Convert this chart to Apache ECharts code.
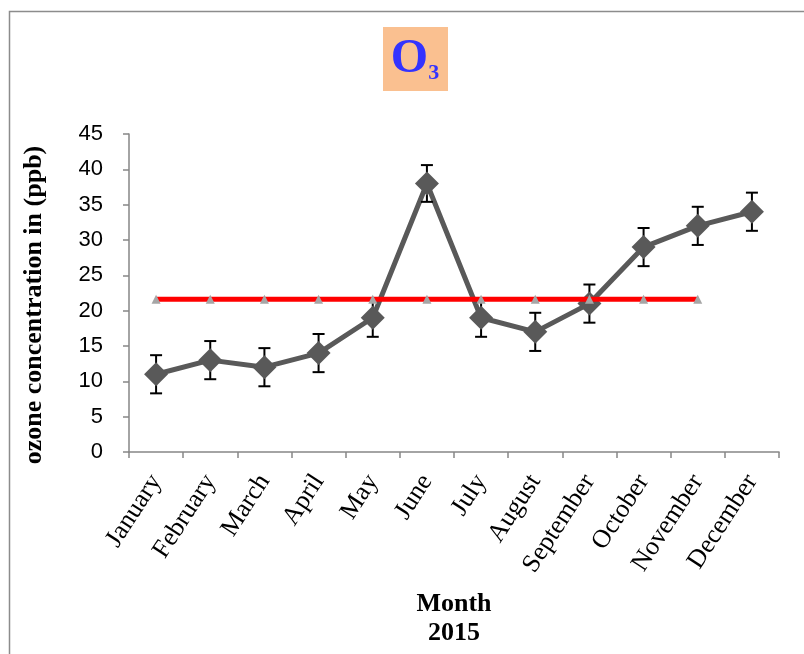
<!DOCTYPE html>
<html>
<head>
<meta charset="utf-8">
<script src="https://cdn.jsdelivr.net/npm/echarts@6/dist/echarts.min.js"></script>
<style>
html,body{margin:0;padding:0;background:#fff;}
#chart{width:804px;height:654px;}
</style>
</head>
<body>
<div id="chart"></div>
<script>
const months = ['January','February','March','April','May','June','July','August','September','October','November','December'];
const ozone = [11, 13, 12, 14, 19, 38, 19, 17, 21, 29, 32, 34];
const ozoneErr = [2.7, 2.7, 2.7, 2.7, 2.7, 2.6, 2.7, 2.7, 2.7, 2.7, 2.7, 2.7];
const limitLine = [21.6, 21.6, 21.6, 21.6, 21.6, 21.6, 21.6, 21.6, 21.6, 21.6, 21.6];
const yTicks = [0, 5, 10, 15, 20, 25, 30, 35, 40, 45];

const chart = echarts.init(document.getElementById('chart'), null, {renderer: 'canvas'});

const errData = ozone.map((v, i) => [i, v - ozoneErr[i], v + ozoneErr[i]]);

chart.setOption({
  animation: false,
  backgroundColor: '#ffffff',
  grid: {left: 129, top: 134, right: 25, bottom: 202, containLabel: false},
  xAxis: {
    type: 'category',
    data: months,
    boundaryGap: true,
    axisLine: {lineStyle: {color: '#868686', width: 1.5}},
    axisTick: {show: true, alignWithLabel: false, length: 6, lineStyle: {color: '#868686', width: 1.5}},
    axisLabel: {rotate: 57, interval: 0, margin: 25, color: '#000', fontFamily: 'Liberation Serif', fontSize: 26}
  },
  yAxis: {
    type: 'value',
    min: yTicks[0], max: yTicks[yTicks.length - 1], interval: 5,
    axisLine: {show: true, lineStyle: {color: '#868686', width: 1.5}},
    axisTick: {show: true, length: 6, lineStyle: {color: '#868686', width: 1.5}},
    splitLine: {show: false},
    axisLabel: {color: '#000', fontFamily: 'Liberation Sans', fontSize: 22, margin: 26}
  },
  graphic: [
    {type: 'rect', shape: {x: 9.5, y: 11.5, width: 1000, height: 1000}, style: {fill: 'none', stroke: '#8c8c8c', lineWidth: 1.5}, z: -10},
    {type: 'rect', shape: {x: 383, y: 27, width: 65, height: 64}, style: {fill: '#FAC090'}, z: 1},
    {type: 'text', x: 415, y: 60, style: {
      text: '{o|O}{s|3}', align: 'center', verticalAlign: 'middle',
      rich: {
        o: {fontFamily: 'Liberation Serif', fontWeight: 'bold', fontSize: 48, fill: '#3333FF'},
        s: {fontFamily: 'Liberation Serif', fontWeight: 'bold', fontSize: 22, fill: '#3333FF', verticalAlign: 'bottom', padding: [16, 0, 0, 0]}
      }}, z: 2},
    {type: 'text', x: 34, y: 305, rotation: Math.PI / 2, style: {
      text: 'ozone concentration in (ppb)', align: 'center', verticalAlign: 'middle',
      fontFamily: 'Liberation Serif', fontWeight: 'bold', fontSize: 26, fill: '#000'}},
    {type: 'text', x: 454, y: 604, style: {
      text: 'Month', align: 'center', verticalAlign: 'middle',
      fontFamily: 'Liberation Serif', fontWeight: 'bold', fontSize: 26, fill: '#000'}},
    {type: 'text', x: 454, y: 633, style: {
      text: '2015', align: 'center', verticalAlign: 'middle',
      fontFamily: 'Liberation Serif', fontWeight: 'bold', fontSize: 26, fill: '#000'}}
  ],
  series: [
    {
      type: 'line', data: ozone, z: 2,
      showSymbol: false, symbol: 'none',
      lineStyle: {color: '#595959', width: 5}
    },
    {
      type: 'custom', data: errData, z: 3,
      renderItem: function (params, api) {
        const x = api.value(0);
        const lo = api.coord([x, api.value(1)]);
        const hi = api.coord([x, api.value(2)]);
        const w = 6;
        const st = {stroke: '#000', lineWidth: 2};
        return {type: 'group', children: [
          {type: 'line', shape: {x1: lo[0], y1: lo[1], x2: hi[0], y2: hi[1]}, style: st},
          {type: 'line', shape: {x1: lo[0] - w, y1: lo[1], x2: lo[0] + w, y2: lo[1]}, style: st},
          {type: 'line', shape: {x1: hi[0] - w, y1: hi[1], x2: hi[0] + w, y2: hi[1]}, style: st}
        ]};
      }
    },
    {
      type: 'scatter', data: ozone, z: 4,
      symbol: 'diamond', symbolSize: 24,
      itemStyle: {color: '#595959', opacity: 1}
    },
    {
      type: 'line', data: limitLine, z: 5,
      symbol: 'triangle', symbolSize: 9,
      lineStyle: {color: '#FF0000', width: 5},
      itemStyle: {color: '#A6A6A6'}
    }
  ]
});
</script>
</body>
</html>
